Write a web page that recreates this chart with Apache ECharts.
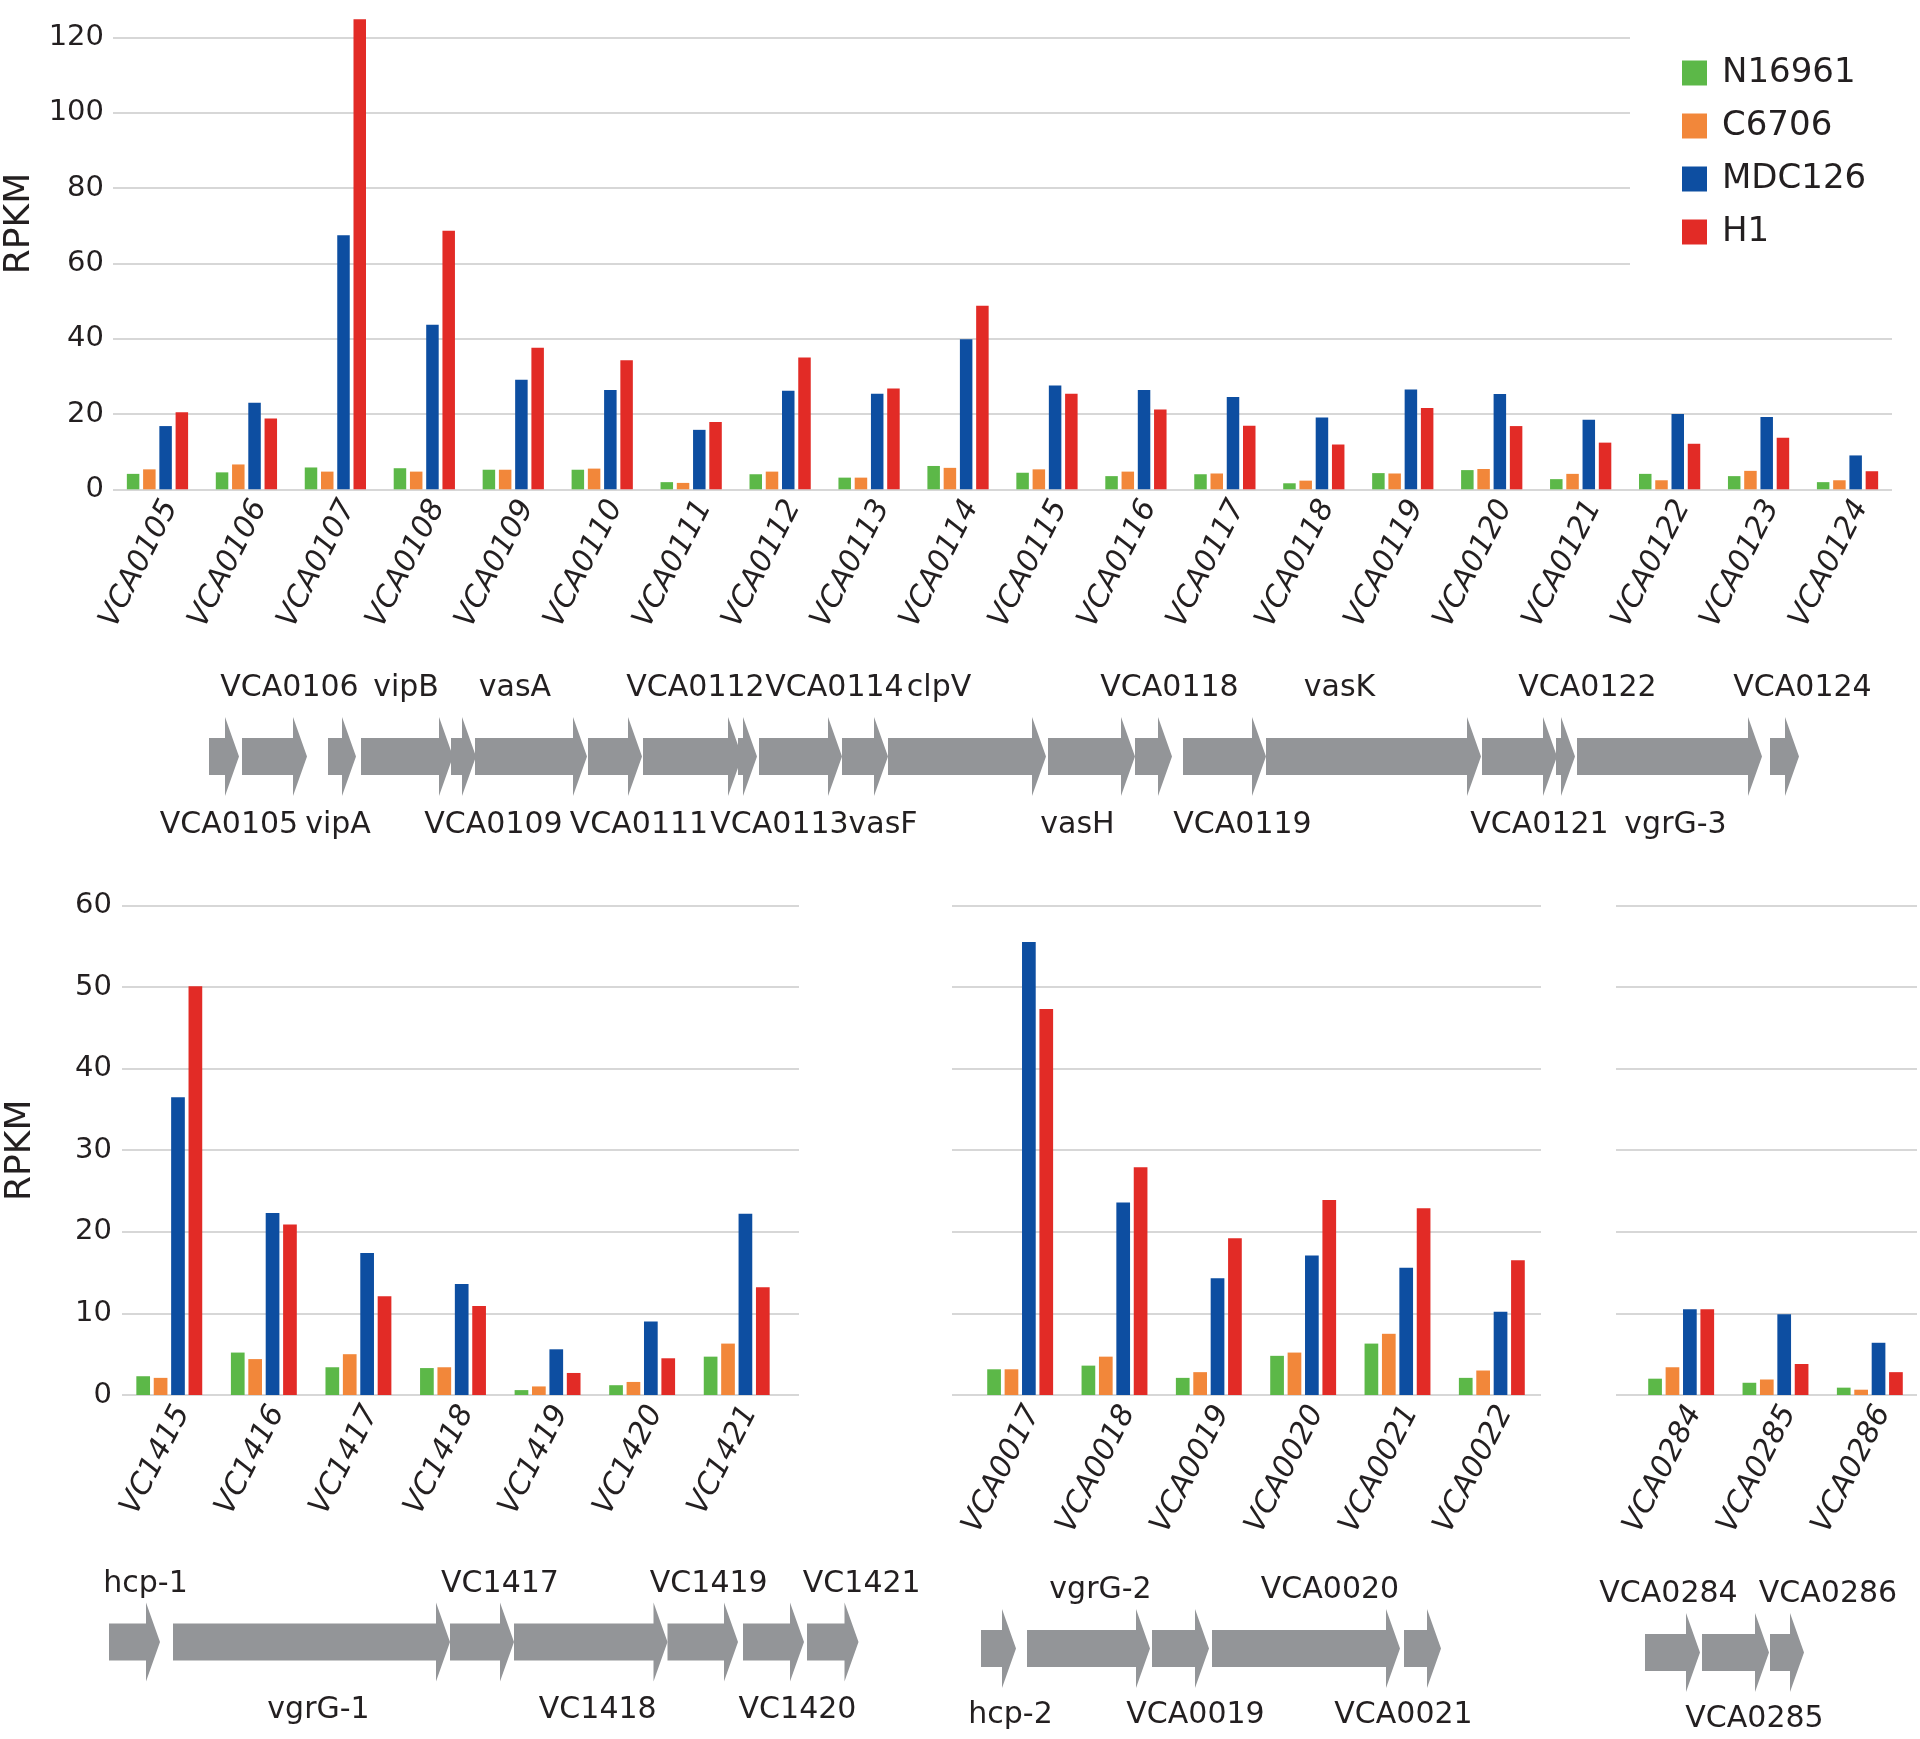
<!DOCTYPE html>
<html><head><meta charset="utf-8">
<script src="https://cdn.jsdelivr.net/npm/echarts@6/dist/echarts.min.js"></script>
<style>html,body{margin:0;padding:0;background:#fff}#c{width:1920px;height:1739px}</style>
</head><body><div id="c"></div>
<script>
// ---------------- DATA ----------------
const seriesNames = ['N16961', 'C6706', 'MDC126', 'H1'];

// Top panel (VCA0105 - VCA0124)
const topCategories = ['VCA0105','VCA0106','VCA0107','VCA0108','VCA0109','VCA0110','VCA0111','VCA0112','VCA0113','VCA0114','VCA0115','VCA0116','VCA0117','VCA0118','VCA0119','VCA0120','VCA0121','VCA0122','VCA0123','VCA0124'];
const topN16961 = [4.1,4.5,5.8,5.6,5.2,5.2,1.9,4.0,3.1,6.2,4.4,3.5,4.0,1.6,4.3,5.1,2.7,4.1,3.5,1.9];
const topC6706  = [5.3,6.6,4.7,4.7,5.2,5.5,1.7,4.7,3.1,5.7,5.3,4.7,4.2,2.3,4.2,5.4,4.1,2.4,4.9,2.4];
const topMDC126 = [16.8,23.0,67.5,43.7,29.1,26.4,15.8,26.2,25.4,39.9,27.6,26.4,24.5,19.1,26.5,25.3,18.5,20.0,19.2,9.0];
const topH1     = [20.5,18.8,124.9,68.7,37.6,34.3,17.9,35.0,26.8,48.8,25.4,21.2,16.9,11.9,21.6,16.8,12.4,12.1,13.7,4.8];
const topTicks  = [0,20,40,60,80,100,120];

// Bottom panel 1 (VC1415 - VC1421)
const p1Categories = ['VC1415','VC1416','VC1417','VC1418','VC1419','VC1420','VC1421'];
const p1N16961 = [2.3,5.2,3.4,3.3,0.6,1.2,4.7];
const p1C6706  = [2.1,4.4,5.0,3.4,1.05,1.6,6.3];
const p1MDC126 = [36.5,22.3,17.4,13.6,5.6,9.0,22.2];
const p1H1     = [50.1,20.9,12.1,10.9,2.7,4.5,13.2];

// Bottom panel 2 (VCA0017 - VCA0022)
const p2Categories = ['VCA0017','VCA0018','VCA0019','VCA0020','VCA0021','VCA0022'];
const p2N16961 = [3.15,3.6,2.1,4.8,6.3,2.1];
const p2C6706  = [3.15,4.7,2.8,5.2,7.5,3.0];
const p2MDC126 = [55.5,23.6,14.3,17.1,15.6,10.2];
const p2H1     = [47.3,27.9,19.2,23.9,22.9,16.5];

// Bottom panel 3 (VCA0284 - VCA0286)
const p3Categories = ['VCA0284','VCA0285','VCA0286'];
const p3N16961 = [2.0,1.5,0.9];
const p3C6706  = [3.4,1.9,0.65];
const p3MDC126 = [10.5,9.9,6.4];
const p3H1     = [10.5,3.8,2.8];
const bottomTicks = [0,10,20,30,40,50,60];

// Gene maps (map units along the locus)
const topGenes  = ['VCA0105','VCA0106','vipA','vipB','VCA0109','vasA','VCA0111','VCA0112','VCA0113','VCA0114','vasF','clpV','vasH','VCA0118','VCA0119','vasK','VCA0121','VCA0122','vgrG-3','VCA0124'];
const topStarts = [20.9,24.2,32.8,36.1,45.1,47.5,58.8,64.3,73.8,75.9,84.2,88.8,104.8,113.5,118.3,126.6,148.2,155.6,157.7,177.0];
const topEnds   = [23.9,30.7,35.6,45.3,47.6,58.7,64.2,74.2,75.7,84.2,88.8,104.6,113.5,117.2,126.6,148.1,155.7,157.5,176.2,179.9];

const g1Genes  = ['hcp-1','vgrG-1','VC1417','VC1418','VC1419','VC1420','VC1421'];
const g1Starts = [10.9,17.3,45.0,51.4,66.75,74.3,80.7];
const g1Ends   = [16.0,45.0,51.4,66.75,73.8,80.4,85.85];

const g2Genes  = ['hcp-2','vgrG-2','VCA0019','VCA0020','VCA0021'];
const g2Starts = [98.1,102.7,115.2,121.2,140.4];
const g2Ends   = [101.6,115.0,120.9,140.0,144.1];

const g3Genes  = ['VCA0284','VCA0285','VCA0286'];
const g3Starts = [164.5,170.2,177.0];
const g3Ends   = [170.0,176.9,180.4];

// ---------------- STYLE / LAYOUT ----------------
const FONT = 'DejaVu Sans';
const TXT = '#231f20';
const GRID_LINE = '#d7d7d7';
const COLORS = ['#5cb848', '#f2873a', '#0d4ea1', '#e22b26'];
const GENE_FILL = '#939598';
const HEAD_LEN = 14, BODY_HALF = 18.5, HEAD_HALF = 39.5;
const labelNudge = {
  'VCA0105':5,'VCA0106':15,'vipA':-4,'vipB':-1,'VCA0109':30,'vasA':-16,'VCA0111':24,'VCA0112':3,'VCA0113':32,'VCA0114':34,
  'vasF':18,'clpV':-28,'vasH':-14,'VCA0118':16,'VCA0119':18,'vasK':-34,'VCA0121':20,'VCA0122':22,'vgrG-3':6,'VCA0124':18,
  'hcp-1':11,'vgrG-1':7,'VC1417':18,'VC1418':7,'VC1419':6,'VC1420':24,'VC1421':29,
  'hcp-2':12,'vgrG-2':12,'VCA0019':15,'VCA0020':24,'VCA0021':-19,
  'VCA0284':-4,'VCA0285':19,'VCA0286':41
};

const chart = echarts.init(document.getElementById('c'), null, {renderer: 'canvas'});

const BOT_TOP = 905.4, BOT_H = 489.6;
const grids = [
  {left:113, top:37.7, width:1779, height:451.6},   // 0 top bars
  {left:122, top:BOT_TOP, width:677, height:BOT_H}, // 1 p1 background
  {left:122, top:BOT_TOP, width:662, height:BOT_H}, // 2 p1 bars
  {left:952, top:BOT_TOP, width:589, height:BOT_H}, // 3 p2 background
  {left:973, top:BOT_TOP, width:566, height:BOT_H}, // 4 p2 bars
  {left:1616, top:BOT_TOP, width:301, height:BOT_H},// 5 p3 background
  {left:1634, top:BOT_TOP, width:283, height:BOT_H},// 6 p3 bars
  {left:0, top:716.5, width:1920, height:80},       // 7 top gene map
  {left:0, top:1602, width:1920, height:80},        // 8 gene map 1
  {left:0, top:1608.5, width:1920, height:80},      // 9 gene map 2
  {left:0, top:1612.5, width:1920, height:80}       // 10 gene map 3
].map(g => Object.assign({containLabel:false, outerBoundsMode:'none'}, g));

const xLabel = {interval:0, rotate:63, fontSize:30, fontFamily:FONT, fontStyle:'italic', color:TXT, margin:6, align:'right', verticalAlign:'top', hideOverlap:false};
function catAxis(grid, data) {
  return {type:'category', gridIndex:grid, data, axisLine:{show:false}, axisTick:{show:false}, axisLabel:xLabel, splitLine:{show:false}};
}
function hiddenValueX(grid, min, max) {
  return {type:'value', gridIndex:grid, min, max, show:false};
}
const xAxes = [
  catAxis(0, topCategories),
  hiddenValueX(1, 0, 1),
  catAxis(2, p1Categories),
  hiddenValueX(3, 0, 1),
  catAxis(4, p2Categories),
  hiddenValueX(5, 0, 1),
  catAxis(6, p3Categories),
  hiddenValueX(7, 0, 192),
  hiddenValueX(8, 0, 192),
  hiddenValueX(9, 0, 192),
  hiddenValueX(10, 0, 192)
];

const split = {show:true, lineStyle:{color:GRID_LINE, width:2}};
const yLab = {fontSize:29, fontFamily:FONT, color:TXT};
const nameStyle = {fontSize:36, fontFamily:FONT, color:TXT};
const yAxes = [
  {type:'value', gridIndex:0, min:topTicks[0], max:topTicks[topTicks.length-1], interval:topTicks[1]-topTicks[0],
   axisLine:{show:false}, axisTick:{show:false}, splitLine:split, axisLabel:Object.assign({margin:9}, yLab),
   name:'RPKM', nameLocation:'middle', nameGap:74, nameTextStyle:Object.assign({padding:[0,0,0,80]}, nameStyle)},
  {type:'value', gridIndex:1, min:bottomTicks[0], max:bottomTicks[bottomTicks.length-1], interval:bottomTicks[1]-bottomTicks[0],
   axisLine:{show:false}, axisTick:{show:false}, splitLine:split, axisLabel:Object.assign({margin:10}, yLab),
   name:'RPKM', nameLocation:'middle', nameGap:83, nameTextStyle:nameStyle},
  {type:'value', gridIndex:2, min:0, max:60, show:false},
  {type:'value', gridIndex:3, min:0, max:60, interval:10, axisLine:{show:false}, axisTick:{show:false}, axisLabel:{show:false}, splitLine:split},
  {type:'value', gridIndex:4, min:0, max:60, show:false},
  {type:'value', gridIndex:5, min:0, max:60, interval:10, axisLine:{show:false}, axisTick:{show:false}, axisLabel:{show:false}, splitLine:split},
  {type:'value', gridIndex:6, min:0, max:60, show:false},
  {type:'value', gridIndex:7, min:-1, max:1, show:false},
  {type:'value', gridIndex:8, min:-1, max:1, show:false},
  {type:'value', gridIndex:9, min:-1, max:1, show:false},
  {type:'value', gridIndex:10, min:-1, max:1, show:false}
];

function barSet(axisIdx, arrays, barWidth, barGap) {
  return arrays.map((arr, k) => ({
    type:'bar', name:seriesNames[k], xAxisIndex:axisIdx, yAxisIndex:axisIdx,
    data:arr, barWidth, barGap, clip:false, silent:true,
    itemStyle:{color:COLORS[k]}, emphasis:{disabled:true}
  }));
}

function geneSeries(axisIdx, names, starts, ends, firstAbove, aboveOff, belowOff) {
  return {
    type:'custom', xAxisIndex:axisIdx, yAxisIndex:axisIdx, silent:true, clip:false,
    data: names.map((n, i) => [starts[i], ends[i]]),
    renderItem(params, api) {
      const i = params.dataIndex;
      const a = api.coord([api.value(0), 0]);
      const b = api.coord([api.value(1), 0]);
      const cy = a[1];
      const hl = Math.min(HEAD_LEN, b[0] - a[0]);
      const hx = b[0] - hl;
      const above = ((i % 2) === 0) === firstAbove;
      const name = names[i];
      return {type:'group', children:[
        {type:'polygon', shape:{points:[[a[0],cy-BODY_HALF],[hx,cy-BODY_HALF],[hx,cy-HEAD_HALF],[b[0],cy],[hx,cy+HEAD_HALF],[hx,cy+BODY_HALF],[a[0],cy+BODY_HALF]]},
         style:{fill:GENE_FILL}},
        {type:'text', x:(a[0]+b[0])/2 + (labelNudge[name] || 0), y: cy + (above ? -aboveOff : belowOff),
         style:{text:name, align:'center', verticalAlign:'middle', fontSize:30, fontFamily:FONT, fill:TXT}}
      ]};
    }
  };
}

const series = [].concat(
  barSet(0, [topN16961, topC6706, topMDC126, topH1], 12.5, '30%'),
  barSet(2, [p1N16961, p1C6706, p1MDC126, p1H1], 13.7, '27%'),
  barSet(4, [p2N16961, p2C6706, p2MDC126, p2H1], 13.7, '27%'),
  barSet(6, [p3N16961, p3C6706, p3MDC126, p3H1], 13.7, '27%'),
  [
    geneSeries(7, topGenes, topStarts, topEnds, false, 68.5, 68.5),
    geneSeries(8, g1Genes, g1Starts, g1Ends, true, 58, 68),
    geneSeries(9, g2Genes, g2Starts, g2Ends, false, 58, 67),
    geneSeries(10, g3Genes, g3Starts, g3Ends, true, 58, 67)
  ]
);

chart.setOption({
  animation:false,
  backgroundColor:'#ffffff',
  textStyle:{fontFamily:FONT},
  legend:{
    data:seriesNames, orient:'vertical', left:1630, top:28,
    padding:[28, 60, 40, 52], backgroundColor:'#ffffff',
    itemWidth:25, itemHeight:25, itemGap:19, icon:'rect',
    selectedMode:false,
    textStyle:{fontSize:34, fontFamily:FONT, color:TXT, lineHeight:25, padding:[0,0,0,10]}
  },
  grid:grids, xAxis:xAxes, yAxis:yAxes, series
});
</script></body></html>
